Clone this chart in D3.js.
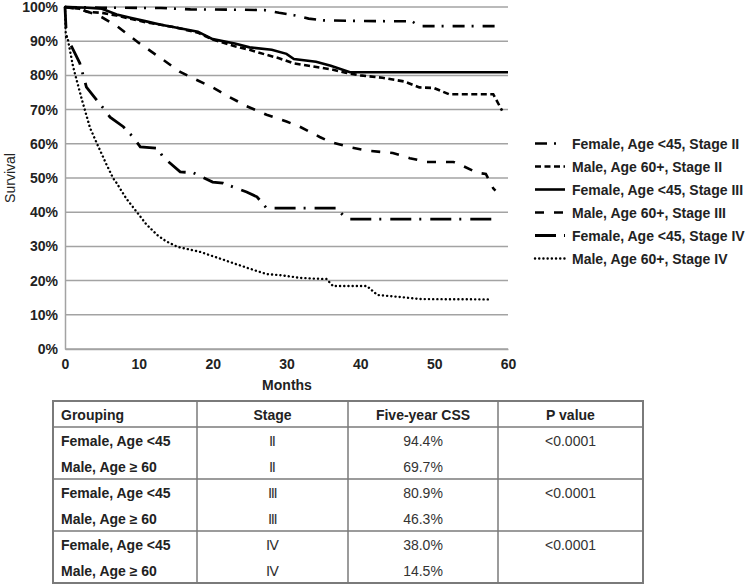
<!DOCTYPE html>
<html>
<head>
<meta charset="utf-8">
<script src="https://cdn.jsdelivr.net/npm/d3@7/dist/d3.min.js"></script>
<style>
  html, body { margin: 0; padding: 0; background: #fff; }
  svg { display: block; font-family: "Liberation Sans", Arial, sans-serif; }
</style>
</head>
<body>
<svg id="chart" width="750" height="585"></svg>
<script>
// ---------- DATA ----------
const seriesNames = [
  "Female, Age <45, Stage II",
  "Male, Age 60+, Stage II",
  "Female, Age <45, Stage III",
  "Male, Age 60+, Stage III",
  "Female, Age <45, Stage IV",
  "Male, Age 60+, Stage IV"
];

const femaleIIMonths = [0, 5, 13, 17, 24, 27, 29, 31, 33, 35, 40, 47, 48, 59];
const femaleIIValues = [100, 99.8, 99.7, 99.3, 99.2, 99.1, 98.3, 97.6, 96.6, 96.1, 95.9, 95.8, 94.4, 94.4];

const maleIIMonths = [0, 2, 3, 5, 7, 9, 11, 13, 15, 18, 20, 23, 25, 27, 29, 31, 33, 36, 38, 40, 43, 46, 48, 50, 52, 58, 59.2];
const maleIIValues = [100, 99.5, 98.6, 98.3, 97.5, 96.5, 95.5, 94.8, 94, 92.5, 90.5, 88.5, 87.5, 86.2, 85, 83.5, 82.8, 81.8, 80.8, 80, 79.3, 78.2, 76.5, 76.3, 74.5, 74.5, 69.7];

const femaleIIIMonths = [0, 3, 5, 7, 9, 11, 13, 15, 18, 20, 23, 25, 28, 30, 31, 34, 36, 38.6, 60];
const femaleIIIValues = [100, 99.8, 99.5, 97.8, 96.8, 95.8, 94.8, 94, 92.8, 90.6, 89.3, 88.2, 87.5, 86.3, 84.8, 84, 82.8, 80.9, 80.9];

const maleIIIMonths = [0, 2, 4, 5, 7, 10, 13, 15.6, 18, 20, 22, 24.6, 27.3, 30, 31.8, 34.5, 36, 38.6, 41, 44.4, 46.7, 49, 52.6, 53.9, 55.9, 57, 58, 58.3];
const maleIIIValues = [100, 99.3, 98, 97, 94.5, 89.5, 85, 81, 78.5, 76.5, 74, 71, 68.5, 66.5, 65, 62, 60.5, 59, 58, 57.3, 55.8, 54.7, 54.7, 53.5, 51.5, 51.2, 47, 46.3];

const femaleIVMonths = [0, 0.2, 0.9, 2, 2.9, 4.3, 5.2, 6.1, 7.9, 9.2, 10.2, 12.5, 13.3, 15.6, 17.4, 20, 21.4, 24.6, 26, 27.3, 36.8, 37.7, 38.5, 58];
const femaleIVValues = [100, 91, 88.4, 83.6, 76.6, 72.8, 70.4, 67.8, 65, 62, 59.1, 58.7, 56.1, 51.8, 51.5, 48.8, 48.5, 45.9, 44.5, 41.2, 41.2, 39, 38, 38];

const maleIVMonths = [0, 0.1, 0.4, 1.1, 2.3, 3.4, 4.3, 5.5, 6.5, 7, 8.3, 9.75, 11, 12.5, 13.7, 15.2, 16, 18.3, 20.5, 22.8, 25, 27.3, 29.5, 31.8, 34.5, 35.4, 36.3, 40.9, 42.3, 45.4, 48.1, 57.6];
const maleIVValues = [100, 92.4, 90.4, 82.5, 72.8, 64.6, 60.2, 54.5, 50, 48.5, 44, 40, 36.5, 33.3, 31.5, 29.9, 29.5, 28.4, 26.8, 25.1, 23.5, 21.9, 21.5, 20.8, 20.5, 20.5, 18.4, 18.4, 15.8, 15.2, 14.6, 14.5];

const xTickValues = [0, 10, 20, 30, 40, 50, 60];
const yTickValues = [0, 10, 20, 30, 40, 50, 60, 70, 80, 90, 100];

const tableHeaders = ["Grouping", "Stage", "Five-year CSS", "P value"];
const tableGrouping = ["Female, Age <45", "Male, Age \u2265 60", "Female, Age <45", "Male, Age \u2265 60", "Female, Age <45", "Male, Age \u2265 60"];
const tableStage = ["\u2161", "\u2161", "\u2162", "\u2162", "\u2163", "\u2163"];
const tableCSS = ["94.4%", "69.7%", "80.9%", "46.3%", "38.0%", "14.5%"];
const tablePValue = ["<0.0001", "", "<0.0001", "", "<0.0001", ""];

// ---------- STYLE ----------
const seriesMonths = [femaleIIMonths, maleIIMonths, femaleIIIMonths, maleIIIMonths, femaleIVMonths, maleIVMonths];
const seriesValues = [femaleIIValues, maleIIValues, femaleIIIValues, maleIIIValues, femaleIVValues, maleIVValues];
const dashes = ["12,7,2,9", "6,3.5", null, "9,10", "21,8,2,9", "0.1,4.1"];
const widths = [2.6, 2.6, 2.6, 2.6, 2.8, 2.4];
const caps = ["butt", "butt", "butt", "butt", "butt", "round"];

const svg = d3.select("#chart");
const plot = { left: 65, right: 508, top: 7, bottom: 349 };

const x = d3.scaleLinear().domain([0, 60]).range([plot.left, plot.right]);
const y = d3.scaleLinear().domain([0, 100]).range([plot.bottom, plot.top]);

// gridlines
svg.append("g")
  .selectAll("line")
  .data(yTickValues)
  .join("line")
  .attr("x1", plot.left).attr("x2", plot.right)
  .attr("y1", d => y(d)).attr("y2", d => y(d))
  .attr("stroke", "#a3a3a3").attr("stroke-width", 1.5);

// y axis
const yAxis = d3.axisLeft(y).tickValues(yTickValues).tickSize(0).tickPadding(7).tickFormat(d => d + "%");
const gy = svg.append("g").attr("transform", `translate(${plot.left},0)`).call(yAxis);
gy.select(".domain").attr("stroke", "#a3a3a3").attr("stroke-width", 1.5);
gy.selectAll("text").attr("font-size", 14).attr("font-weight", "bold").attr("fill", "#222")
  .attr("font-family", "'Liberation Sans', Arial, sans-serif");

// x axis
const xAxis = d3.axisBottom(x).tickValues(xTickValues).tickSize(0).tickPadding(10);
const gx = svg.append("g").attr("transform", `translate(0,${plot.bottom})`).call(xAxis);
gx.select(".domain").attr("stroke", "#a3a3a3").attr("stroke-width", 1.5);
gx.selectAll("text").attr("font-size", 14).attr("font-weight", "bold").attr("fill", "#222")
  .attr("font-family", "'Liberation Sans', Arial, sans-serif");

// axis titles
svg.append("text").attr("x", 287).attr("y", 390).attr("text-anchor", "middle")
  .attr("font-size", 14).attr("font-weight", "bold").attr("fill", "#222").text("Months");
svg.append("text").attr("transform", "translate(15,178) rotate(-90)").attr("text-anchor", "middle")
  .attr("font-size", 14).attr("fill", "#222").text("Survival");

// curves
const line = d3.line().x(d => x(d[0])).y(d => y(d[1]));
seriesNames.forEach((name, i) => {
  const pts = seriesMonths[i].map((m, j) => [m, seriesValues[i][j]]);
  svg.append("path")
    .datum(pts)
    .attr("d", line)
    .attr("fill", "none")
    .attr("stroke", "#000")
    .attr("stroke-width", widths[i])
    .attr("stroke-dasharray", dashes[i])
    .attr("stroke-linecap", caps[i]);
});

// legend
const legend = svg.append("g");
seriesNames.forEach((name, i) => {
  const cy = 143.5 + i * 23;
  legend.append("line")
    .attr("x1", 535).attr("x2", 565).attr("y1", cy).attr("y2", cy)
    .attr("stroke", "#000").attr("stroke-width", widths[i])
    .attr("stroke-dasharray", dashes[i])
    .attr("stroke-linecap", caps[i]);
  legend.append("text").attr("x", 572).attr("y", cy + 5)
    .attr("font-size", 14).attr("font-weight", "bold").attr("fill", "#222").text(name);
});

// table
const tbl = svg.append("g");
const colX = [53, 197, 348, 498, 643];
const rowTop = 401, headerH = 26, rowH = 26;
const tableBottom = rowTop + headerH + rowH * tableGrouping.length;
const lineColor = "#7a7a7a";

tbl.append("rect").attr("x", colX[0]).attr("y", rowTop)
  .attr("width", colX[4] - colX[0]).attr("height", tableBottom - rowTop)
  .attr("fill", "none").attr("stroke", lineColor).attr("stroke-width", 2);
colX.slice(1, 4).forEach(cx => {
  tbl.append("line").attr("x1", cx).attr("x2", cx).attr("y1", rowTop).attr("y2", tableBottom)
    .attr("stroke", lineColor).attr("stroke-width", 1.5);
});
[0, 2, 4].forEach(r => {
  const yy = rowTop + headerH + r * rowH;
  tbl.append("line").attr("x1", colX[0]).attr("x2", colX[4]).attr("y1", yy).attr("y2", yy)
    .attr("stroke", lineColor).attr("stroke-width", 1.5);
});

// header
tableHeaders.forEach((h, c) => {
  const left = c === 0;
  tbl.append("text")
    .attr("x", left ? colX[0] + 8 : (colX[c] + colX[c + 1]) / 2)
    .attr("y", rowTop + 19)
    .attr("text-anchor", left ? "start" : "middle")
    .attr("font-size", 14).attr("font-weight", "bold").attr("fill", "#222").text(h);
});

// body
tableGrouping.forEach((g, r) => {
  const by = rowTop + headerH + r * rowH + 19;
  tbl.append("text").attr("x", colX[0] + 8).attr("y", by)
    .attr("font-size", 14).attr("font-weight", "bold").attr("fill", "#222").text(g);
  tbl.append("text").attr("x", (colX[1] + colX[2]) / 2).attr("y", by).attr("text-anchor", "middle")
    .attr("font-size", 14).attr("fill", "#333").text(tableStage[r]);
  tbl.append("text").attr("x", (colX[2] + colX[3]) / 2).attr("y", by).attr("text-anchor", "middle")
    .attr("font-size", 14).attr("fill", "#333").text(tableCSS[r]);
  tbl.append("text").attr("x", (colX[3] + colX[4]) / 2).attr("y", by).attr("text-anchor", "middle")
    .attr("font-size", 14).attr("fill", "#333").text(tablePValue[r]);
});
</script>
</body>
</html>
